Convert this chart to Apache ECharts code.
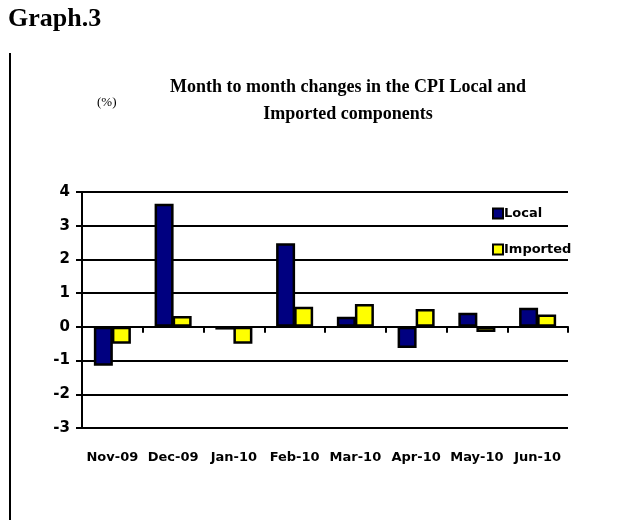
<!DOCTYPE html>
<html>
<head>
<meta charset="utf-8">
<script src="https://cdn.jsdelivr.net/npm/echarts@6/dist/echarts.min.js"></script>
<style>
  html, body { margin: 0; padding: 0; background: #fff; }
  #chart { width: 625px; height: 523px; }
</style>
</head>
<body>
<div id="chart"></div>
<script>
// data
var months = ['Nov-09', 'Dec-09', 'Jan-10', 'Feb-10', 'Mar-10', 'Apr-10', 'May-10', 'Jun-10']
var localVals = [-1.15, 3.65, -0.08, 2.48, 0.3, -0.63, 0.42, 0.57]
var importedVals = [-0.5, 0.32, -0.5, 0.6, 0.68, 0.53, -0.15, 0.37]
var yMin = -3
var yMax = 4

var chart = echarts.init(document.getElementById('chart'))
var sansBold = { fontFamily: 'DejaVu Sans', fontWeight: 'bold', color: '#000' }

var option = {
  animation: false,
  title: {
    text: 'Month to month changes in the CPI Local and\nImported components',
    left: 343,
    top: 69,
    textAlign: 'center',
    textStyle: {
      fontFamily: 'Liberation Serif',
      fontWeight: 'bold',
      fontSize: 18,
      lineHeight: 27,
      color: '#000'
    }
  },
  graphic: [
    {
      type: 'text', left: 8, top: 6,
      style: { text: 'Graph.3', font: 'bold 26px "Liberation Serif"', fill: '#000' }
    },
    {
      type: 'line',
      shape: { x1: 10, y1: 53, x2: 10, y2: 520 },
      style: { stroke: '#000', lineWidth: 2 }
    },
    {
      type: 'text', left: 97, top: 96,
      style: { text: '(%)', font: '13px "Liberation Serif"', fill: '#000' }
    }
  ],
  legend: {
    orient: 'vertical',
    left: 487,
    top: 202,
    itemGap: 23,
    itemWidth: 10,
    itemHeight: 10,
    textStyle: Object.assign({ fontSize: 13, padding: [0, 0, 0, -4] }, sansBold),
    data: [
      { name: 'Local', icon: 'rect' },
      { name: 'Imported', icon: 'rect' }
    ]
  },
  grid: { left: 82, right: 57, top: 192, bottom: 95 },
  xAxis: [
    {
      type: 'category',
      data: months,
      position: 'bottom',
      axisLine: { show: false, onZero: false },
      axisTick: { show: false },
      axisLabel: Object.assign({ fontSize: 13, margin: 23, interval: 0 }, sansBold)
    },
    {
      type: 'category',
      data: months,
      position: 'bottom',
      axisLine: { show: true, onZero: true, lineStyle: { color: '#000', width: 2 } },
      axisTick: { show: true, length: 6, lineStyle: { color: '#000', width: 2 } },
      axisLabel: { show: false }
    }
  ],
  yAxis: {
    type: 'value',
    min: yMin,
    max: yMax,
    interval: 1,
    axisLine: { show: true, lineStyle: { color: '#000', width: 2 } },
    axisTick: { show: true, length: 6, lineStyle: { color: '#000', width: 2 } },
    splitLine: { show: true, lineStyle: { color: '#000', width: 2 } },
    axisLabel: Object.assign({ fontSize: 15, margin: 12 }, sansBold)
  },
  series: [
    {
      name: 'Local',
      type: 'bar',
      xAxisIndex: 0,
      data: localVals,
      barWidth: 19,
      barGap: '-5%',
      itemStyle: { color: '#000080', borderColor: '#000', borderWidth: 2.5 }
    },
    {
      name: 'Imported',
      type: 'bar',
      xAxisIndex: 0,
      data: importedVals,
      barWidth: 19,
      barGap: '-5%',
      itemStyle: { color: '#ffff00', borderColor: '#000', borderWidth: 2.5 }
    }
  ]
}

chart.setOption(option)
</script>
</body>
</html>
